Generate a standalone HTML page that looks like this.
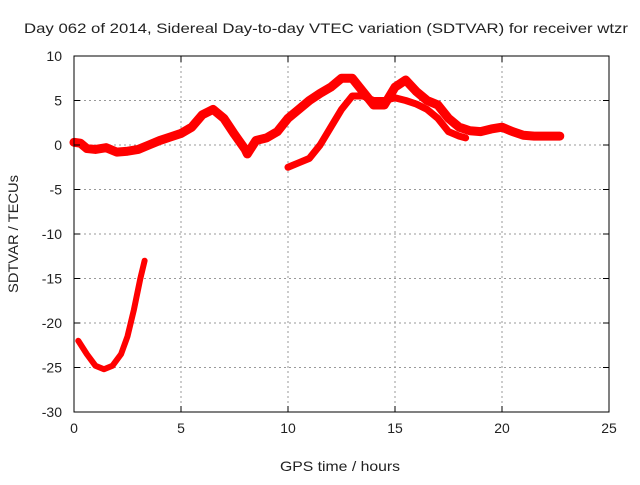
<!DOCTYPE html>
<html><head><meta charset="utf-8"><style>
body{margin:0;background:#fff;}
svg text{font-family:"Liberation Sans",sans-serif;font-size:14px;fill:#222;}
</style></head><body>
<svg id="chart" width="640" height="480">
<text x="326" y="33" text-anchor="middle" textLength="604" lengthAdjust="spacingAndGlyphs">Day 062 of 2014, Sidereal Day-to-day VTEC variation (SDTVAR) for receiver wtzr</text>
<text x="340" y="471" text-anchor="middle" textLength="120" lengthAdjust="spacingAndGlyphs">GPS time / hours</text>
<text transform="translate(18,234) rotate(-90)" text-anchor="middle" textLength="118" lengthAdjust="spacingAndGlyphs">SDTVAR / TECUs</text>
<g id="grid"></g><g id="series"></g><g id="axes"></g>
</svg>
<script>
const xTicks=[0,5,10,15,20,25];
const yTicks=[10,5,0,-5,-10,-15,-20,-25,-30];
const mainHours=[0,0.3,0.6,1,1.5,2,2.5,3,3.5,4,4.5,5,5.5,6,6.5,7,7.5,8,8.1,8.5,9,9.5,10,10.5,11,11.5,12,12.5,13,13.5,14,14.5,15,15.5,16,16.5,17,17.5,18,18.5,19,19.5,20,20.5,21,21.5,22,22.7];
const mainVals=[0.3,0.2,-0.4,-0.5,-0.3,-0.8,-0.7,-0.5,0,0.5,0.9,1.3,2,3.4,4,3,1.2,-0.5,-1,0.5,0.8,1.5,3,4,5,5.8,6.5,7.5,7.5,6,4.5,4.5,6.5,7.3,6,5,4.5,3,2,1.6,1.5,1.8,2,1.5,1.1,1,1,1];
const branchHours=[10,10.5,11,11.5,12,12.5,13,13.5,14,14.5,15,15.5,16,16.5,17,17.5,18,18.3];
const branchVals=[-2.5,-2,-1.5,0,2,4,5.5,5.5,5,5,5.3,5,4.6,4,3,1.5,1,0.8];
const lowHours=[0.2,0.6,1,1.4,1.8,2.2,2.5,2.8,3.1,3.3];
const lowVals=[-22,-23.5,-24.8,-25.2,-24.8,-23.5,-21.5,-18.5,-15,-13];
const X0=74,X1=609,Y0=412,Y1=56;
const sx=h=>X0+(h-0)/25*(X1-X0);
const sy=v=>Y0-(v+30)/40*(Y0-Y1);
const NS="http://www.w3.org/2000/svg";
const grid=document.getElementById('grid'),axes=document.getElementById('axes'),ser=document.getElementById('series');
function mk(tag,attrs,parent){const e=document.createElementNS(NS,tag);for(const k in attrs)e.setAttribute(k,attrs[k]);parent.appendChild(e);return e;}
xTicks.forEach(t=>{
 const x=sx(t);
 if(t>0&&t<25){const g=mk('line',{x1:x,x2:x,y1:Y1,y2:Y0,stroke:'#999','stroke-dasharray':'2,3'},grid);
 
 }
 mk('line',{x1:x,x2:x,y1:Y0,y2:Y0-6,stroke:'#000'},axes);
 mk('line',{x1:x,x2:x,y1:Y1,y2:Y1+6,stroke:'#000'},axes);
 const tx=mk('text',{x:x,y:Y0+21,'text-anchor':'middle'},axes);tx.textContent=t;
 
 
});
yTicks.forEach(t=>{
 const y=sy(t);
 if(t<10&&t>-30){const g=mk('line',{x1:X0,x2:X1,y1:y,y2:y,stroke:'#999','stroke-dasharray':'2,3'},grid);
 
 }
 mk('line',{x1:X0,x2:X0+6,y1:y,y2:y,stroke:'#000'},axes);
 mk('line',{x1:X1,x2:X1-6,y1:y,y2:y,stroke:'#000'},axes);
 const tx=mk('text',{x:X0-12,y:y+5,'text-anchor':'end'},axes);tx.textContent=t;
 
 
});
const fr=mk('rect',{x:X0,y:Y1,width:X1-X0,height:Y0-Y1,fill:'none',stroke:'#000'},axes);


function draw(hs,vs,name,w){
 const p=mk('polyline',{points:hs.map((h,i)=>sx(h)+','+sy(vs[i])).join(' '),fill:'none',stroke:'#f00','stroke-width':w,'stroke-linejoin':'round','stroke-linecap':'round'},ser);
 
 
}
draw(mainHours,mainVals,'sdtvar-main-series',9);
draw(branchHours,branchVals,'sdtvar-branch-series',7);
draw(lowHours,lowVals,'sdtvar-low-series',6);
</script>
</body></html>
